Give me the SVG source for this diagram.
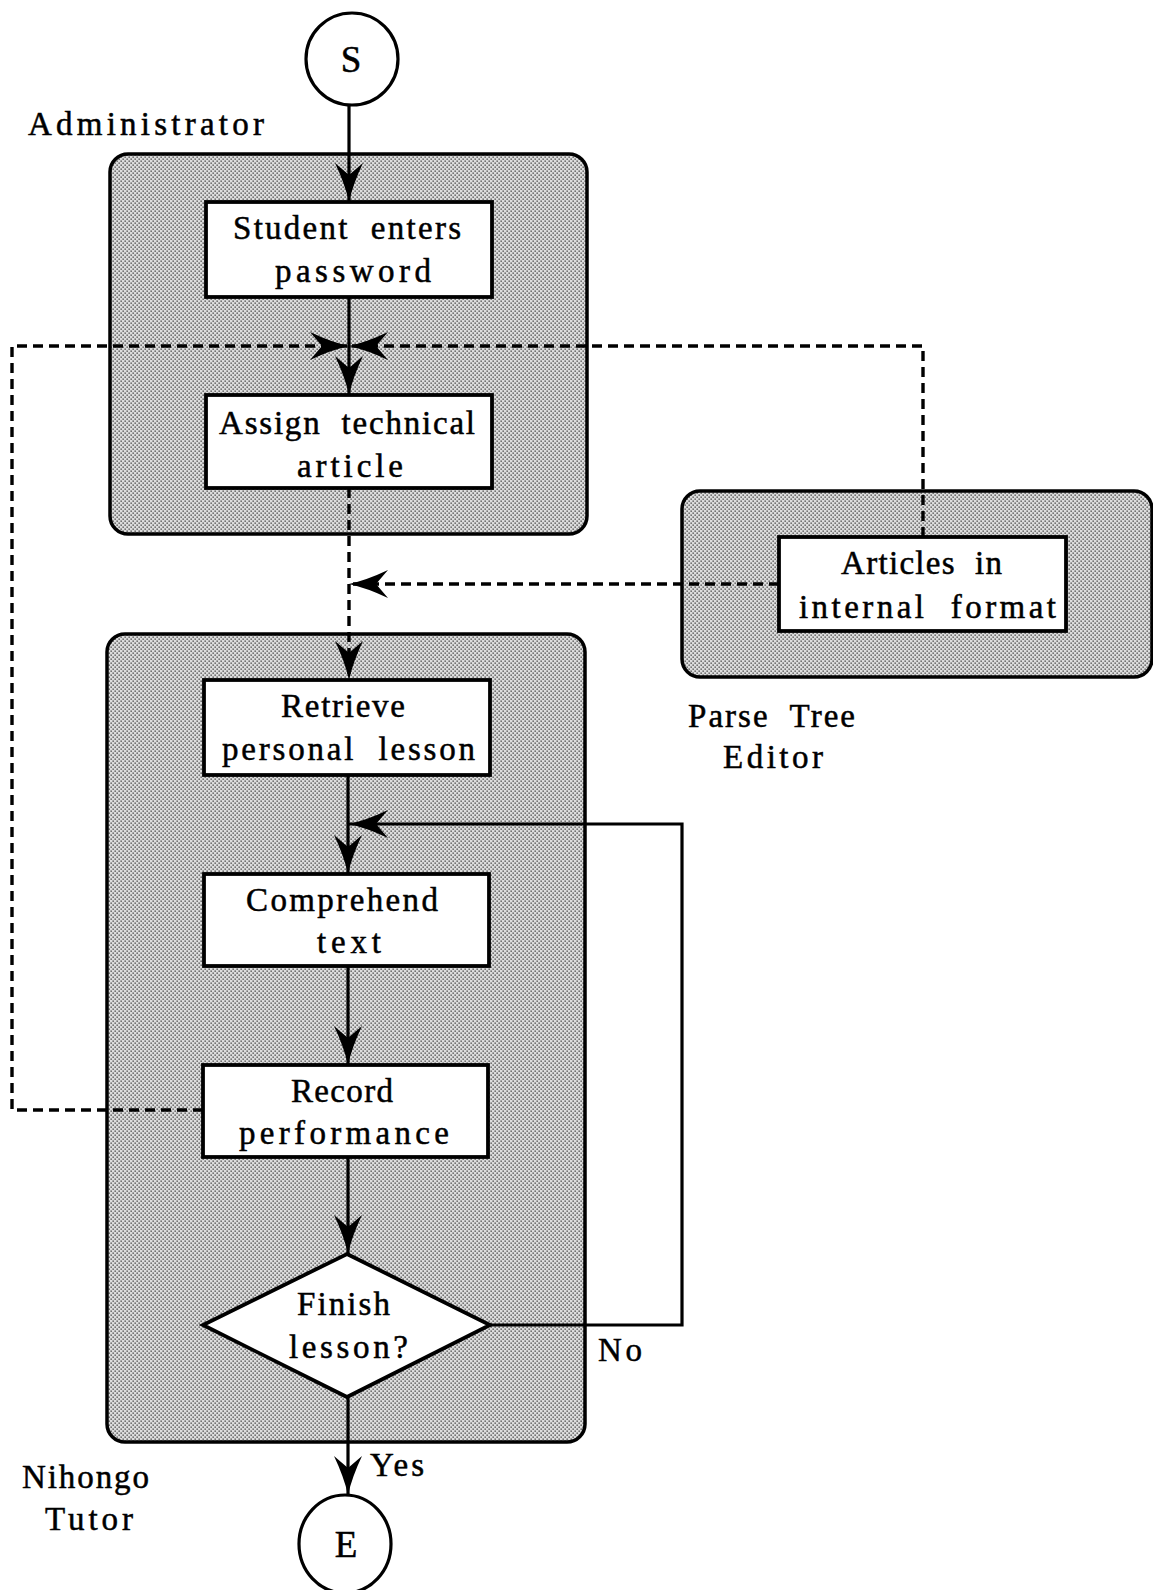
<svg xmlns="http://www.w3.org/2000/svg" width="1153" height="1590" viewBox="0 0 1153 1590">
  <defs>
    <pattern id="halftone" width="4" height="4" patternUnits="userSpaceOnUse">
      <rect width="4" height="4" fill="#dcdcdc"/>
      <rect x="0.5" y="0.5" width="1.3" height="1.3" fill="#3a3a3a"/>
      <rect x="2.5" y="2.5" width="1.3" height="1.3" fill="#3a3a3a"/>
    </pattern>
    <marker id="barb" viewBox="-42 -15 44 30" refX="0" refY="0" markerWidth="44" markerHeight="30" markerUnits="userSpaceOnUse" orient="auto">
      <path d="M0,0 Q-18,-4 -39,-14 L-27,0 L-39,14 Q-18,4 0,0 Z" fill="#000"/>
    </marker>
    <style>
      .lane { fill: url(#halftone); stroke: #000; stroke-width: 3.5; }
      .box { fill: #fff; stroke: #000; stroke-width: 3.8; }
      .term { fill: #fff; stroke: #000; stroke-width: 3.2; }
      .flow { fill: none; stroke: #000; stroke-width: 3.2; }
      .dash { fill: none; stroke: #000; stroke-width: 3.4; stroke-dasharray: 10 6; }
      .arrow { marker-end: url(#barb); }
      text { font-family: "Liberation Serif", "Times New Roman", serif; font-size: 33px; fill: #000; stroke: #000; stroke-width: 0.5; }
      .mid { text-anchor: middle; }
      .big { font-size: 37px; }
    </style>
  </defs>

  <rect width="1153" height="1590" fill="#fff"/>

  <!-- swimlanes -->
  <g id="lane-administrator">
    <rect class="lane" x="110" y="154" width="477" height="380" rx="18"/>
    <text x="28" y="135" textLength="236" lengthAdjust="spacing">Administrator</text>
  </g>
  <g id="lane-parse-tree-editor">
    <rect class="lane" x="682" y="491" width="470" height="186" rx="18"/>
    <text x="688" y="727" textLength="167" lengthAdjust="spacing" xml:space="preserve">Parse  Tree</text>
    <text x="723" y="768" textLength="100" lengthAdjust="spacing">Editor</text>
  </g>
  <g id="lane-nihongo-tutor">
    <rect class="lane" x="107" y="634" width="478" height="808" rx="18"/>
    <text x="22" y="1488" textLength="127" lengthAdjust="spacing">Nihongo</text>
    <text x="45" y="1530" textLength="88" lengthAdjust="spacing">Tutor</text>
  </g>

  <!-- connectors -->
  <g id="connectors">
    <path class="flow arrow" d="M349,105 V202"/>
    <path class="flow arrow" d="M349,297 V395"/>
    <path class="dash arrow" d="M203,1110 H12 V346 H349"/>
    <path class="dash arrow" d="M923,537 V346 H349"/>
    <path class="dash arrow" d="M349,488 V680"/>
    <path class="dash arrow" d="M779,584 H349"/>
    <path class="flow arrow" d="M348,775 V874"/>
    <path class="flow arrow" d="M490,1325 H682 V824 H349"/>
    <path class="flow arrow" d="M348,966 V1065"/>
    <path class="flow arrow" d="M348,1157 V1254"/>
    <path class="flow arrow" d="M348,1397 V1495"/>
    <text x="598" y="1361" textLength="44" lengthAdjust="spacing">No</text>
    <text x="370" y="1476" textLength="54" lengthAdjust="spacing">Yes</text>
  </g>

  <!-- nodes -->
  <g id="start">
    <circle class="term" cx="352" cy="59" r="46"/>
    <text class="mid big" x="351" y="72">S</text>
  </g>
  <g id="student-enters-password">
    <rect class="box" x="206" y="202" width="286" height="95"/>
    <text x="233" y="239" textLength="228" lengthAdjust="spacing" xml:space="preserve">Student  enters</text>
    <text x="275" y="282" textLength="156" lengthAdjust="spacing">password</text>
  </g>
  <g id="assign-technical-article">
    <rect class="box" x="206" y="395" width="286" height="93"/>
    <text x="219" y="434" textLength="256" lengthAdjust="spacing" xml:space="preserve">Assign  technical</text>
    <text x="297" y="477" textLength="106" lengthAdjust="spacing">article</text>
  </g>
  <g id="articles-in-internal-format">
    <rect class="box" x="779" y="537" width="287" height="94"/>
    <text x="841" y="574" textLength="161" lengthAdjust="spacing" xml:space="preserve">Articles  in</text>
    <text x="799" y="618" textLength="257" lengthAdjust="spacing" xml:space="preserve">internal  format</text>
  </g>
  <g id="retrieve-personal-lesson">
    <rect class="box" x="204" y="680" width="286" height="95"/>
    <text x="281" y="717" textLength="124" lengthAdjust="spacing">Retrieve</text>
    <text x="222" y="760" textLength="253" lengthAdjust="spacing" xml:space="preserve">personal  lesson</text>
  </g>
  <g id="comprehend-text">
    <rect class="box" x="204" y="874" width="285" height="92"/>
    <text x="246" y="911" textLength="192" lengthAdjust="spacing">Comprehend</text>
    <text x="317" y="953" textLength="64" lengthAdjust="spacing">text</text>
  </g>
  <g id="record-performance">
    <rect class="box" x="203" y="1065" width="285" height="92"/>
    <text x="291" y="1102" textLength="102" lengthAdjust="spacing">Record</text>
    <text x="239" y="1144" textLength="210" lengthAdjust="spacing">performance</text>
  </g>
  <g id="finish-lesson">
    <polygon class="box" points="347,1254 490,1325 347,1397 203,1325"/>
    <text x="297" y="1315" textLength="93" lengthAdjust="spacing">Finish</text>
    <text x="289" y="1358" textLength="119" lengthAdjust="spacing">lesson?</text>
  </g>
  <g id="end">
    <ellipse class="term" cx="345" cy="1544" rx="46" ry="49"/>
    <text class="mid big" x="346" y="1557">E</text>
  </g>
</svg>
